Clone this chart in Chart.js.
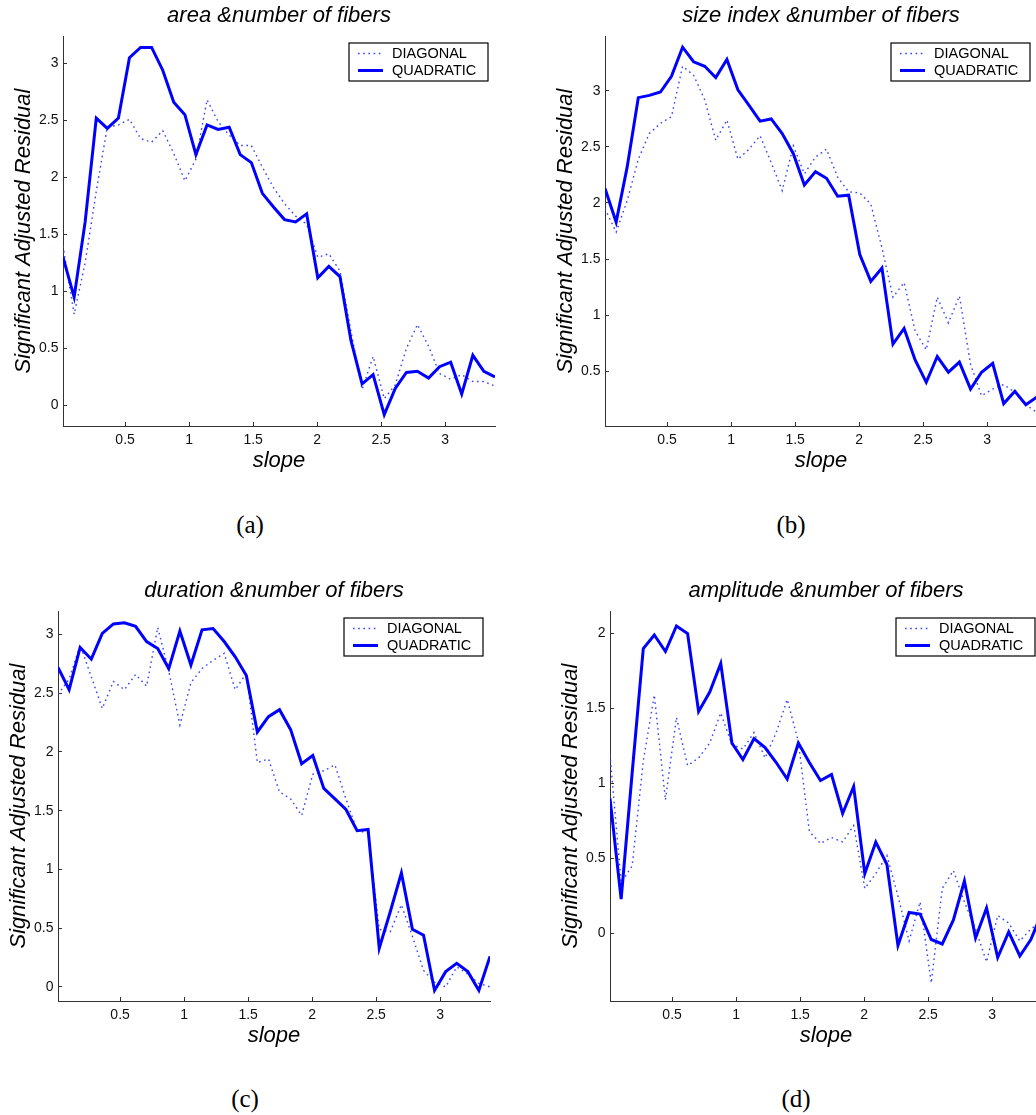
<!DOCTYPE html>
<html>
<head>
<meta charset="utf-8">
<script src="https://cdn.jsdelivr.net/npm/chart.js@4.4.0/dist/chart.umd.min.js"></script>
<style>
html,body{margin:0;padding:0;background:#fff;width:1036px;height:1115px;overflow:hidden}
body{position:relative}
.panel{position:absolute;width:558px;height:480px}
.cap{position:absolute;font:25px "Liberation Serif",serif;color:#000;transform:translate(-50%,-50%);white-space:nowrap}
</style>
</head>
<body>

<div class="panel" style="left:0px;top:0px"><canvas id="chartA"></canvas></div>
<div class="panel" style="left:542px;top:0px"><canvas id="chartB"></canvas></div>
<div class="panel" style="left:-5px;top:575px"><canvas id="chartC"></canvas></div>
<div class="panel" style="left:547px;top:575px"><canvas id="chartD"></canvas></div>

<div class="cap" style="left:250px;top:525px">(a)</div>
<div class="cap" style="left:791px;top:525px">(b)</div>
<div class="cap" style="left:245px;top:1099px">(c)</div>
<div class="cap" style="left:796px;top:1099px">(d)</div>

<script>

/* DATA */

const slope = [0.015,0.102,0.188,0.275,0.361,0.448,0.534,0.621,0.707,0.794,
0.880,0.967,1.053,1.140,1.226,1.313,1.399,1.486,1.572,1.659,
1.745,1.832,1.918,2.005,2.091,2.178,2.264,2.351,2.437,2.524,
2.610,2.697,2.783,2.870,2.956,3.043,3.129,3.216,3.302,3.389]

const xTicks = [0.5,1,1.5,2,2.5,3]

// (a) area
const areaQuad = [1.30,0.95,1.61,2.52,2.43,2.52,3.05,3.14,3.14,2.94,
2.66,2.55,2.20,2.46,2.42,2.44,2.20,2.13,1.86,1.74,
1.63,1.61,1.68,1.12,1.22,1.13,0.57,0.19,0.27,-0.08,
0.15,0.29,0.30,0.24,0.34,0.38,0.10,0.44,0.30,0.25]
const areaDiag = [1.40,0.80,1.25,1.88,2.44,2.46,2.51,2.34,2.31,2.41,
2.21,1.97,2.16,2.68,2.49,2.37,2.28,2.28,2.09,1.91,
1.77,1.66,1.59,1.30,1.33,1.18,0.65,0.14,0.43,0.06,
0.18,0.50,0.71,0.52,0.28,0.23,0.27,0.21,0.21,0.17]
const areaTicks = [0,0.5,1,1.5,2,2.5,3]

// (b) size index
const sizeQuad = [2.13,1.83,2.32,2.94,2.96,2.99,3.13,3.39,3.26,3.22,
3.12,3.28,3.01,2.87,2.73,2.75,2.62,2.44,2.16,2.28,
2.22,2.06,2.07,1.54,1.30,1.42,0.74,0.88,0.60,0.40,
0.63,0.49,0.58,0.34,0.49,0.57,0.21,0.32,0.20,0.27]
const sizeDiag = [1.95,1.74,2.02,2.39,2.62,2.71,2.77,3.22,3.14,2.92,
2.56,2.74,2.39,2.48,2.60,2.36,2.11,2.51,2.26,2.41,
2.48,2.23,2.10,2.09,1.99,1.60,1.16,1.29,0.86,0.69,
1.16,0.93,1.17,0.56,0.28,0.34,0.38,0.31,0.20,0.13]
const sizeTicks = [0.5,1,1.5,2,2.5,3]

// (c) duration
const durQuad = [2.72,2.53,2.89,2.79,3.01,3.09,3.10,3.07,2.94,2.88,
2.71,3.03,2.74,3.04,3.05,2.94,2.81,2.65,2.17,2.30,
2.36,2.19,1.90,1.97,1.69,1.60,1.51,1.33,1.34,0.33,
0.64,0.97,0.49,0.44,-0.03,0.13,0.20,0.13,-0.03,0.26]
const durDiag = [2.49,2.62,2.91,2.64,2.37,2.60,2.53,2.66,2.56,3.06,
2.69,2.23,2.59,2.71,2.78,2.84,2.53,2.67,1.91,1.94,
1.66,1.60,1.46,1.81,1.84,1.89,1.60,1.33,1.31,0.49,
0.47,0.70,0.43,0.14,0.04,0.00,0.17,0.11,0.03,0.00]
const durTicks = [0,0.5,1,1.5,2,2.5,3]

// (d) amplitude
const ampQuad = [0.90,0.23,1.07,1.90,1.99,1.88,2.05,2.00,1.48,1.61,
1.80,1.27,1.16,1.30,1.24,1.14,1.03,1.27,1.14,1.02,
1.06,0.80,0.98,0.40,0.61,0.46,-0.08,0.14,0.13,-0.04,
-0.07,0.09,0.35,-0.03,0.17,-0.16,0.01,-0.15,-0.04,0.14]
const ampDiag = [1.19,0.34,0.45,1.15,1.59,0.89,1.44,1.12,1.17,1.27,
1.47,1.26,1.23,1.34,1.17,1.34,1.56,1.28,0.68,0.60,
0.64,0.61,0.72,0.30,0.40,0.52,0.25,-0.05,0.21,-0.33,
0.30,0.42,0.21,0.03,-0.19,0.12,0.07,-0.05,0.03,0.08]
const ampTicks = [0,0.5,1,1.5,2]



const SANS = '"Liberation Sans", Arial, Helvetica, sans-serif'

/* legend box, MATLAB style, top right inside the axes */

const boxLegend = {

id:'boxLegend',

afterDraw(chart){

const {ctx, chartArea} = chart
const w = 139, h = 38
const x = chartArea.right - 7 - w
const y = chartArea.top + 7

ctx.save()
ctx.fillStyle = '#fff'
ctx.fillRect(x,y,w,h)
ctx.strokeStyle = '#000'
ctx.lineWidth = 1.2
ctx.strokeRect(x,y,w,h)

chart.data.datasets.forEach((ds,i)=>{

const ly = y + 10.5 + i*17

ctx.beginPath()
ctx.setLineDash(ds.borderDash || [])
ctx.strokeStyle = ds.borderColor
ctx.lineWidth = ds.borderWidth
ctx.moveTo(x+9,ly)
ctx.lineTo(x+34,ly)
ctx.stroke()
ctx.setLineDash([])

ctx.fillStyle = '#000'
ctx.font = '14.5px ' + SANS
ctx.textBaseline = 'middle'
ctx.textAlign = 'left'
ctx.fillText(ds.label, x+43, ly)

})

ctx.restore()

}

}



function makeChart(id, title, quad, diag, yMin, yMax, yTicks){

return new Chart(

document.getElementById(id),

{

type:'line',

data:{

datasets:[

{
label:'DIAGONAL',
data:slope.map((x,i)=>({x:x, y:diag[i]})),
borderColor:'#3344ff',
borderWidth:1.4,
borderDash:[1.6,3.6],
pointRadius:0,
tension:0,
order:1
},

{
label:'QUADRATIC',
data:slope.map((x,i)=>({x:x, y:quad[i]})),
borderColor:'#0000ff',
borderWidth:3,
pointRadius:0,
tension:0,
order:0
}

]

},

options:{

animation:false,
responsive:true,
maintainAspectRatio:false,
layout:{padding:0},

plugins:{
legend:{display:false},
tooltip:{enabled:false},
title:{
display:true,
text:title,
color:'#000',
font:{family:SANS, size:22, style:'italic', weight:'normal', lineHeight:1.2},
padding:{top:2.8, bottom:6.8}
}
},

scales:{

x:{
type:'linear',
min:slope[0],
max:slope[slope.length-1],
afterFit:s=>{ s.height = 54 },
afterBuildTicks:s=>{ s.ticks = xTicks.map(v=>({value:v})) },
ticks:{color:'#111', font:{family:SANS, size:14}, padding:9.6, maxRotation:0, callback:v=>String(v)},
grid:{display:true, drawOnChartArea:false, drawTicks:true, tickLength:-4, color:'#333'},
border:{display:true, color:'#333', width:1},
title:{display:true, text:'slope', color:'#000', font:{family:SANS, size:22, style:'italic', lineHeight:1.2}, padding:{top:0, bottom:5.8}}
},

y:{
type:'linear',
position:'left',
min:yMin,
max:yMax,
afterFit:s=>{ s.width = 63 },
afterBuildTicks:s=>{ s.ticks = yTicks.map(v=>({value:v})) },
ticks:{color:'#111', font:{family:SANS, size:14}, padding:8.5, callback:v=>String(v)},
grid:{display:true, drawOnChartArea:false, drawTicks:true, tickLength:-4, color:'#333'},
border:{display:true, color:'#333', width:1},
title:{display:true, text:'Significant Adjusted Residual', color:'#000', font:{family:SANS, size:22, style:'italic', lineHeight:1.2}, padding:{top:10.3, bottom:0}}
},

// empty right side, keeps the title centred over the axes
yr:{
type:'linear',
position:'right',
afterFit:s=>{ s.width = 63 },
ticks:{display:false},
grid:{display:false},
border:{display:false}
}

}

},

plugins:[boxLegend]

}

)

}



makeChart('chartA', 'area &number of fibers', areaQuad, areaDiag, -0.18, 3.24, areaTicks)

makeChart('chartB', 'size index &number of fibers', sizeQuad, sizeDiag, 0.01, 3.49, sizeTicks)

makeChart('chartC', 'duration &number of fibers', durQuad, durDiag, -0.12, 3.20, durTicks)

makeChart('chartD', 'amplitude &number of fibers', ampQuad, ampDiag, -0.45, 2.15, ampTicks)

</script>
</body>
</html>
